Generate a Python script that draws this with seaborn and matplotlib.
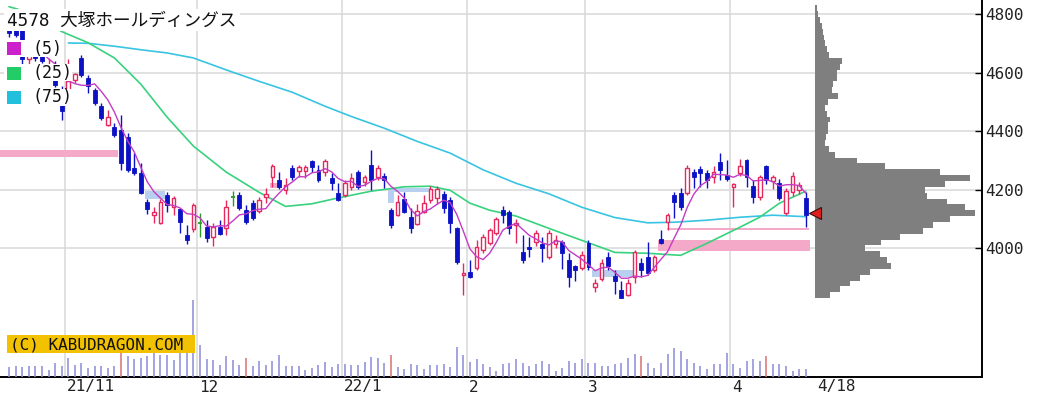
import numpy as np
import pandas as pd
import matplotlib
matplotlib.use("Agg")
import matplotlib.pyplot as plt
import matplotlib.transforms as mtransforms
from matplotlib.patches import Rectangle
import seaborn as sns

# ---------------- data ----------------
title = "4578 大塚ホールディングス"
open_ = [4800, 4760, 4745, 4645, 4680, 4665, 4610, 4625, 4545, 4495,
         4575, 4650, 4581, 4540, 4485, 4420, 4414, 4403, 4379, 4273,
         4256, 4157, 4113, 4085, 4181, 4140, 4133, 4044, 4065, 4085,
         4072, 4038, 4072, 4068, 4174, 4181, 4130, 4154, 4126, 4174,
         4243, 4232, 4198, 4273, 4263, 4263, 4297, 4267, 4260, 4239,
         4188, 4181, 4208, 4260, 4226, 4284, 4243, 4246, 4130, 4113,
         4167, 4106, 4082, 4123, 4164, 4171, 4184, 4164, 4068, 3908,
         3918, 3932, 3993, 4017, 4051, 4130, 4123, 4079, 3986, 4003,
         4020, 4014, 3969, 4014, 4020, 3959, 3938, 3932, 4017, 3867,
         3894, 3969, 3904, 3856, 3839, 3901, 3949, 3969, 3925, 4031,
         4089, 4181, 4188, 4188, 4260, 4270, 4256, 4243, 4294, 4250,
         4208, 4256, 4301, 4212, 4174, 4280, 4229, 4222, 4120, 4191,
         4198, 4171]
high = [4815, 4790, 4760, 4690, 4700, 4680, 4650, 4640, 4555, 4645,
        4600, 4660, 4592, 4547, 4496, 4472, 4427, 4455, 4393, 4325,
        4290, 4167, 4140, 4167, 4191, 4178, 4137, 4078, 4154, 4120,
        4096, 4085, 4096, 4164, 4195, 4191, 4147, 4164, 4174, 4205,
        4287, 4260, 4239, 4284, 4284, 4284, 4301, 4284, 4304, 4256,
        4222, 4232, 4256, 4267, 4250, 4335, 4284, 4256, 4137, 4181,
        4191, 4137, 4150, 4181, 4212, 4212, 4195, 4174, 4072, 3949,
        3959, 4027, 4048, 4068, 4106, 4143, 4130, 4099, 4044, 4037,
        4061, 4038, 4061, 4044, 4027, 3983, 3942, 3990, 4027, 3894,
        3962, 3986, 3925, 3890, 3894, 3993, 3966, 4020, 3976, 4061,
        4120, 4191, 4205, 4284, 4270, 4280, 4267, 4280, 4325, 4301,
        4222, 4304, 4304, 4232, 4250, 4284, 4250, 4236, 4205, 4260,
        4226, 4191]
low = [4722, 4722, 4630, 4630, 4638, 4632, 4600, 4550, 4437, 4490,
       4565, 4585, 4530, 4489, 4438, 4417, 4379, 4267, 4262, 4250,
       4185, 4116, 4085, 4082, 4123, 4113, 4051, 4014, 4055, 4038,
       4020, 4007, 4044, 4044, 4143, 4130, 4082, 4096, 4120, 4154,
       4208, 4202, 4184, 4232, 4243, 4240, 4260, 4226, 4246, 4198,
       4160, 4174, 4198, 4202, 4212, 4198, 4232, 4205, 4068, 4110,
       4120, 4051, 4079, 4120, 4154, 4150, 4120, 4051, 3945, 3839,
       3898, 3925, 3983, 4010, 4044, 4085, 4048, 4017, 3949, 3972,
       4007, 3952, 3962, 4000, 3928, 3867, 3887, 3925, 3925, 3850,
       3887, 3925, 3843, 3829, 3836, 3880, 3901, 3910, 3918, 4014,
       4061, 4103, 4130, 4181, 4205, 4208, 4205, 4222, 4232, 4230,
       4140, 4246, 4208, 4154, 4164, 4218, 4202, 4164, 4115, 4180,
       4185, 4072]
close = [4735, 4730, 4645, 4680, 4650, 4640, 4620, 4556, 4470, 4570,
         4595, 4592, 4554, 4496, 4444, 4448, 4386, 4291, 4267, 4256,
         4188, 4133, 4123, 4157, 4147, 4171, 4089, 4027, 4147, 4085,
         4034, 4072, 4048, 4140, 4174, 4137, 4089, 4103, 4164, 4184,
         4280, 4208, 4215, 4243, 4277, 4277, 4277, 4232, 4297, 4222,
         4164, 4222, 4239, 4208, 4243, 4232, 4273, 4232, 4079, 4157,
         4123, 4068, 4126, 4154, 4202, 4202, 4137, 4085, 3952, 3915,
         3901, 4003, 4037, 4061, 4099, 4113, 4068, 4085, 3959, 3997,
         4051, 4000, 4051, 4027, 3983, 3901, 3925, 3976, 3935, 3880,
         3949, 3938, 3890, 3832, 3880, 3986, 3925, 3915, 3969, 4017,
         4113, 4157, 4140, 4273, 4243, 4256, 4232, 4260, 4267, 4235,
         4219, 4280, 4243, 4174, 4243, 4232, 4243, 4171, 4195, 4246,
         4215, 4113]
volume = [490, 540, 500, 540, 540, 540, 370, 700, 540, 950,
          620, 700, 450, 540, 540, 450, 540, 1200, 1040, 900,
          950, 1040, 1200, 1120, 1120, 870, 1200, 1200, 3850, 1600,
          900, 870, 620, 1040, 870, 620, 950, 540, 790, 620,
          790, 1120, 540, 540, 540, 370, 450, 620, 750, 500,
          630, 650, 600, 580, 750, 1000, 930, 690, 1090, 500,
          420, 670, 590, 420, 590, 590, 670, 500, 1500, 1090,
          750, 920, 670, 500, 300, 640, 720, 890, 720, 550,
          640, 800, 640, 300, 470, 800, 720, 890, 720, 720,
          550, 550, 640, 720, 970, 1140, 1050, 720, 470, 720,
          1140, 1470, 1300, 890, 720, 550, 390, 640, 640, 1220,
          640, 470, 800, 890, 800, 1050, 640, 640, 550, 300,
          390, 390]
sq_days = [17, 36, 58, 96, 115]          # volume bars drawn in red

ma25_day = [0, 2, 5, 8, 12, 16, 20, 24, 28, 33, 38, 42, 46, 50, 55, 60,
            64, 67, 70, 73, 77, 82, 87, 92, 97, 102, 106, 111, 114, 117, 121]
ma25 = [4825, 4812, 4780, 4740, 4702, 4650, 4561, 4448, 4349, 4260, 4191,
        4143, 4152, 4172, 4195, 4210, 4212, 4198, 4154, 4130, 4110, 4068,
        4027, 3986, 3983, 3976, 4017, 4072, 4106, 4154, 4195]
ma75_day = [9, 12, 16, 20, 24, 28, 33, 38, 43, 48, 52, 57, 62, 67, 72, 77,
            82, 87, 92, 97, 101, 106, 111, 116, 121]
ma75 = [4701, 4700, 4690, 4678, 4667, 4650, 4609, 4570, 4533, 4485, 4450,
        4410, 4365, 4325, 4268, 4222, 4186, 4140, 4105, 4087, 4089, 4096,
        4106, 4113, 4108]

# price-by-volume profile (right side)
profile_price = [4820, 4800, 4780, 4760, 4740, 4720, 4700, 4680, 4660, 4640,
                 4620, 4600, 4580, 4560, 4540, 4520, 4500, 4480, 4460, 4440,
                 4420, 4400, 4380, 4360, 4340, 4320, 4300, 4280, 4260, 4240,
                 4220, 4200, 4180, 4160, 4140, 4120, 4100, 4080, 4060, 4040,
                 4020, 4000, 3980, 3960, 3940, 3920, 3900, 3880, 3860, 3840]
profile_volume = [2, 3, 5, 7, 8, 9, 10, 12, 14, 27,
                  25, 22, 22, 18, 17, 23, 13, 10, 12, 15,
                  13, 13, 11, 10, 14, 20, 42, 70, 125, 155,
                  130, 110, 112, 132, 150, 160, 135, 118, 108, 85,
                  66, 50, 65, 72, 76, 55, 45, 35, 25, 15]

# gap / band zones: start day, end day, low price, high price, kind
zone_start = [-1.4, 20.7, 39.6, 57.6, 58.4, 88.6, 98.6, 99.9]
zone_end = [16.5, 23.7, 41.2, 58.4, 64.0, 94.8, 121.6, 121.5]
zone_low = [4311, 4167, 4205, 4154, 4191, 3901, 3990, 4061]
zone_high = [4335, 4195, 4222, 4205, 4205, 3925, 4027, 4068]
zone_kind = ["up", "down", "up", "down", "down", "down", "up", "up"]

month_first_day = [9, 29, 51, 70, 88, 110]
month_labels = ["21/11", "12", "22/1", "2", "3", "4"]
last_label = "4/18"
price_ticks = [4000, 4200, 4400, 4600, 4800]
ma_labels = ["(5)", "(25)", "(75)"]

# ---------------- style ----------------
BLUE = "#0c12c4"
RED = "#e6285c"
GREEN = "#2a9a2a"
MA5_C = "#c43cc4"
MA25_C = "#38d27e"
MA75_C = "#38c4e2"
VOL_C = "#8a8ad6"
VOL_RED = "#d87070"
GRID_C = "#d9d9d9"
ZONE_C = {"up": "#f5a9c9", "down": "#b9cff0"}
MONO = ["DejaVu Sans Mono", "Noto Sans CJK JP"]

sns.set_style("white")
plt.rcParams['font.family'] = ['DejaVu Sans', 'Noto Sans CJK JP']

W, H = 1055, 397
fig = plt.figure(figsize=(W / 100, H / 100), dpi=100)
fig.patch.set_facecolor("white")


def fx(px):
    return px / W


def fy(py):
    return 1 - py / H


# pixel geometry of the reference
X0, STEP = 9.0, 6.585          # x pixel of first candle, pixels per day
AX_RIGHT, AX_BOTTOM = 982, 377
Y_TOP = 4800 + 14 * (800 / 234.3)
Y_BOT = 4800 - (AX_BOTTOM - 14) * (800 / 234.3)

ax = fig.add_axes([0, fy(AX_BOTTOM), fx(AX_RIGHT), AX_BOTTOM / H])
ax.set_xlim(-X0 / STEP, (AX_RIGHT - X0) / STEP)
ax.set_ylim(Y_BOT, Y_TOP)
ax.set_facecolor("white")

o = np.array(open_, float)
h = np.array(high, float)
l = np.array(low, float)
c = np.array(close, float)
days = np.arange(len(c))

# grid
for p in price_ticks:
    ax.axhline(p, color=GRID_C, lw=1.1, zorder=0)
for d in month_first_day:
    ax.axvline(d - 0.5, color=GRID_C, lw=1.1, zorder=0)

# zones
for s, e, lo, hi, k in zip(zone_start, zone_end, zone_low, zone_high, zone_kind):
    ax.add_patch(Rectangle((s, lo), e - s, hi - lo, facecolor=ZONE_C[k],
                           edgecolor="none", zorder=1))

# moving averages
ma5 = pd.Series(c).rolling(5).mean()
sns.lineplot(x=ma75_day, y=ma75, ax=ax, color=MA75_C, lw=1.2, zorder=2)
sns.lineplot(x=ma25_day, y=ma25, ax=ax, color=MA25_C, lw=1.2, zorder=2)
sns.lineplot(x=days, y=ma5.values, ax=ax, color=MA5_C, lw=1.0, zorder=5)

# candles
up = c > o
dn = c < o
fl = c == o
wick_col = np.where(up, RED, np.where(dn, BLUE, GREEN))
ax.vlines(days, l, h, colors=list(wick_col), lw=1.0, zorder=3)
ax.bar(days[dn], (o - c)[dn], bottom=c[dn], width=0.6, color=BLUE,
       edgecolor=BLUE, lw=0.6, zorder=4)
ax.bar(days[up], (c - o)[up], bottom=o[up], width=0.55, facecolor="white",
       edgecolor=RED, lw=1.0, zorder=4)
ax.hlines(c[fl], days[fl] - 0.35, days[fl] + 0.35, colors=GREEN, lw=1.3, zorder=4)

# axes styling
for side in ("left", "top"):
    ax.spines[side].set_visible(False)
for side in ("right", "bottom"):
    ax.spines[side].set_color("black")
    ax.spines[side].set_linewidth(1.4)
ax.yaxis.tick_right()
ax.set_yticks(price_ticks)
ax.set_yticklabels([str(p) for p in price_ticks], family=MONO)
ax.tick_params(axis="y", direction="in", length=5, width=1, pad=2,
               labelsize=11.5, colors="black")
for t in ax.get_yticklabels():
    t.set_color("#222222")
ax.set_xticks([])
ax.set_xlabel("")
ax.set_ylabel("")

# volume (overlay axes)
axv = fig.add_axes([0, fy(AX_BOTTOM), fx(AX_RIGHT), AX_BOTTOM / H], sharex=ax)
axv.patch.set_visible(False)
axv.axis("off")
axv.set_ylim(0, AX_BOTTOM * 50)
vcol = [VOL_RED if d in sq_days else VOL_C for d in days]
axv.vlines(days, 0, volume, colors=vcol, lw=1.1)

# price-by-volume profile
axp = fig.add_axes([fx(815), fy(AX_BOTTOM), fx(AX_RIGHT - 815), AX_BOTTOM / H])
axp.patch.set_visible(False)
axp.axis("off")
axp.set_ylim(Y_BOT, Y_TOP)
axp.set_xlim(0, AX_RIGHT - 815)
axp.barh(profile_price, profile_volume, height=20, left=0, color="#7f7f7f",
         edgecolor="none")
axp.plot([0], [c[-1] + 6], marker="<", ms=8, mfc="#e01e1e", mec="#3a0a0a",
         mew=0.8, clip_on=False, zorder=6)

# date labels
trans = mtransforms.blended_transform_factory(ax.transData, fig.transFigure)
for d, lab in zip(month_first_day, month_labels):
    ax.text(d - 0.5 + 0.35, fy(387), lab, transform=trans, ha="left",
            va="center", fontsize=11.5, family=MONO, color="#222222",
            clip_on=False)
ax.text(days[-1] + 1.7, fy(387), last_label, transform=trans, ha="left",
        va="center", fontsize=11.5, family=MONO, color="#222222", clip_on=False)

# legend block (white rows over the chart)
rows = [(4, 9, 240, 31), (4, 40, 64, 57), (4, 64, 72, 81), (4, 89, 72, 106)]
for x1, y1, x2, y2 in rows:
    fig.add_artist(Rectangle((fx(x1), fy(y2)), fx(x2 - x1), (y2 - y1) / H,
                             transform=fig.transFigure, facecolor="white",
                             edgecolor="none", zorder=5))
fig.text(fx(7), fy(21), title, fontsize=12.7, va="center", ha="left",
         family=MONO, color="#111111", zorder=6)
sq_cols = ["#cc22cc", "#22cc66", "#22c0dd"]
sq_y = [48.5, 73.5, 97.5]
for col, yc, lab in zip(sq_cols, sq_y, ma_labels):
    fig.add_artist(Rectangle((fx(7), fy(yc + 6.5)), fx(14), 13 / H,
                             transform=fig.transFigure, facecolor=col,
                             edgecolor="none", zorder=6))
    fig.text(fx(33), fy(yc), lab, fontsize=12, va="center", ha="left",
             family=MONO, color="#111111", zorder=7)

# copyright badge
fig.add_artist(Rectangle((fx(7), fy(353)), fx(188), 18 / H,
                         transform=fig.transFigure, facecolor="#f2c200",
                         edgecolor="none", zorder=6))
fig.text(fx(10), fy(344.5), "(C) KABUDRAGON.COM", fontsize=11.5,
         family=MONO, va="center", ha="left", color="#111111", zorder=7)

fig.savefig("out.png", dpi=100, facecolor="white")
